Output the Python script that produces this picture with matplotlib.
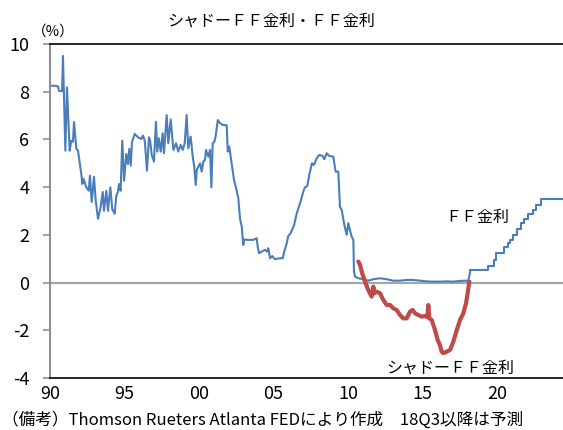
import matplotlib
matplotlib.use('Agg')

import matplotlib.pyplot as plt

plt.rcParams['font.family'] = ['Noto Sans CJK JP', 'DejaVu Sans']

# FF rate (observed), year vs percent
ff_years = [1990.00, 1990.09, 1990.34, 1990.54, 1990.60, 1990.81, 1990.87, 1991.03,
            1991.14, 1991.32, 1991.43, 1991.54, 1991.61, 1991.77, 1991.88, 1992.10,
            1992.17, 1992.26, 1992.44, 1992.60, 1992.68, 1992.80, 1992.95, 1993.07,
            1993.22, 1993.40, 1993.54, 1993.62, 1993.78, 1993.89, 1994.05, 1994.18,
            1994.34, 1994.45, 1994.56, 1994.63, 1994.74, 1994.85, 1994.97, 1995.12,
            1995.23, 1995.32, 1995.42, 1995.50, 1995.68, 1995.91, 1996.13, 1996.24,
            1996.36, 1996.51, 1996.64, 1996.71, 1996.83, 1996.98, 1997.11, 1997.20,
            1997.30, 1997.43, 1997.56, 1997.65, 1997.83, 1997.94, 1998.10, 1998.28,
            1998.46, 1998.61, 1998.77, 1998.91, 1999.04, 1999.17, 1999.28, 1999.44,
            1999.58, 1999.68, 1999.78, 1999.85, 2000.07, 2000.18, 2000.29, 2000.40,
            2000.47, 2000.62, 2000.74, 2000.83, 2000.92, 2001.03, 2001.12, 2001.26,
            2001.41, 2001.63, 2001.86, 2001.93, 2002.03, 2002.19, 2002.35, 2002.48,
            2002.64, 2002.75, 2002.87, 2002.97, 2003.04, 2003.20, 2003.42, 2003.64,
            2003.87, 2003.94, 2004.03, 2004.21, 2004.43, 2004.58, 2004.65, 2004.77,
            2004.92, 2005.10, 2005.26, 2005.44, 2005.62, 2005.72, 2005.89, 2005.99,
            2006.15, 2006.38, 2006.56, 2006.78, 2007.00, 2007.11, 2007.27, 2007.40,
            2007.58, 2007.72, 2007.90, 2008.07, 2008.30, 2008.41, 2008.57, 2008.74,
            2009.01, 2009.17, 2009.35, 2009.46, 2009.58, 2009.73, 2009.91, 2010.02,
            2010.13, 2010.25, 2010.36, 2010.40, 2010.47, 2010.69, 2011.03, 2011.36,
            2011.70, 2012.15, 2012.60, 2013.04, 2013.49, 2013.94, 2014.38, 2014.83,
            2015.28, 2015.72, 2016.17, 2016.62, 2017.07, 2017.52, 2018.07, 2018.15,
            2018.22]
ff_vals = [8.25, 8.25, 8.25, 8.22, 8.04, 8.02, 9.50, 5.53,
           8.18, 5.53, 5.95, 5.90, 6.73, 5.60, 5.53, 4.55,
           4.13, 4.34, 3.99, 3.85, 4.48, 3.38, 4.43, 3.43,
           2.67, 3.17, 3.80, 3.01, 3.85, 3.01, 3.99, 3.08,
           2.88, 3.64, 3.80, 4.13, 3.85, 5.95, 4.27, 5.39,
           4.97, 5.60, 4.90, 5.88, 6.23, 6.09, 6.02, 6.16,
           5.95, 4.69, 6.09, 5.98, 5.35, 5.07, 6.74, 5.49,
           6.05, 5.49, 6.26, 5.42, 7.02, 5.84, 6.84, 5.56,
           5.84, 5.49, 5.77, 5.56, 5.84, 7.02, 5.63, 6.12,
           5.28, 4.86, 4.09, 4.72, 5.00, 4.65, 5.07, 5.14,
           5.56, 5.28, 5.56, 3.99, 5.84, 5.90, 6.14, 6.81,
           6.68, 6.60, 6.60, 5.49, 5.70, 5.00, 4.30, 3.99,
           3.53, 2.69, 2.34, 1.58, 1.81, 1.79, 1.79, 1.79,
           1.86, 1.50, 1.23, 1.30, 1.37, 1.30, 1.44, 1.02,
           1.11, 0.98, 1.00, 1.02, 1.02, 1.30, 1.65, 1.95,
           2.07, 2.41, 2.90, 3.32, 3.81, 3.99, 4.05, 4.51,
           5.00, 4.93, 5.21, 5.35, 5.31, 5.17, 5.42, 5.31,
           5.28, 4.65, 4.65, 3.18, 3.04, 2.49, 2.00, 2.49,
           2.20, 1.92, 1.79, 0.46, 0.25, 0.18, 0.14, 0.08,
           0.14, 0.18, 0.14, 0.08, 0.08, 0.11, 0.11, 0.08,
           0.05, 0.04, 0.04, 0.05, 0.04, 0.07, 0.08, 0.30,
           0.53]

# FF rate path (step changes), from the last observed point onward
ff_step_years = [2018.22, 2019.42, 2019.80, 2019.93, 2020.47, 2020.76, 2020.87,
                 2021.09, 2021.32, 2021.59, 2021.81, 2022.10, 2022.40, 2022.62,
                 2022.95, 2024.43]
ff_step_vals = [0.53, 0.70, 0.95, 1.23, 1.48, 1.65, 1.79,
                2.00, 2.23, 2.49, 2.65, 2.88, 3.04, 3.25,
                3.49, 3.49]

# shadow FF rate
sh_years = [2010.69, 2010.81, 2010.92, 2011.14, 2011.36, 2011.59, 2011.70, 2011.77,
            2011.93, 2012.15, 2012.37, 2012.60, 2012.82, 2013.04, 2013.27, 2013.49,
            2013.71, 2013.94, 2014.16, 2014.34, 2014.50, 2014.72, 2014.95, 2015.17,
            2015.32, 2015.39, 2015.46, 2015.62, 2015.84, 2016.02, 2016.17, 2016.29,
            2016.40, 2016.62, 2016.85, 2017.07, 2017.30, 2017.52, 2017.74, 2017.92,
            2018.03, 2018.14]
sh_vals = [0.88, 0.74, 0.46, 0.04, -0.31, -0.59, -0.17, -0.45,
           -0.38, -0.45, -0.73, -0.94, -0.94, -1.08, -1.15, -1.36,
           -1.50, -1.50, -1.22, -1.15, -1.29, -1.36, -1.43, -1.40,
           -1.45, -0.94, -1.50, -1.57, -1.99, -2.41, -2.62, -2.90,
           -2.96, -2.90, -2.82, -2.48, -1.99, -1.57, -1.29, -0.87,
           -0.45, 0.04]

xtick_pos = [1990, 1995, 2000, 2005, 2010, 2015, 2020]
xtick_labels = ['90', '95', '00', '05', '10', '15', '20']
ytick_pos = [-4, -2, 0, 2, 4, 6, 8, 10]

blue = '#4a7ebb'
red = '#be4b48'


def main():
    fig = plt.figure(figsize=(5.63, 4.30), dpi=100)
    ax = fig.add_axes([50 / 563., 52 / 430., 513 / 563., 334 / 430.])

    ax.axhline(0, color='#a6a6a6', lw=1.6, zorder=1)
    ax.plot(ff_years, ff_vals, color=blue, lw=1.5, zorder=2)
    ax.plot(ff_step_years, ff_step_vals, color=blue, lw=1.5,
            drawstyle='steps-post', zorder=2)
    ax.plot(sh_years, sh_vals, color=red, lw=3.0, zorder=3,
            solid_capstyle='round', solid_joinstyle='round')

    ax.set_xlim(1990, 2024.43)
    ax.set_ylim(-4, 10)

    ax.set_xticks(xtick_pos)
    ax.set_xticklabels(xtick_labels, fontsize=13)
    ax.set_yticks(ytick_pos)
    ax.set_yticklabels([str(v) for v in ytick_pos], fontsize=13)
    ax.tick_params(axis='x', length=0, pad=5)
    ax.tick_params(axis='y', length=5, width=1.2, color='#909090',
                   direction='out', pad=10)

    ax.spines['right'].set_visible(False)
    ax.spines['left'].set_color('#909090')
    ax.spines['left'].set_linewidth(1.5)
    ax.spines['top'].set_color('black')
    ax.spines['top'].set_linewidth(1.2)
    ax.spines['bottom'].set_color('black')
    ax.spines['bottom'].set_linewidth(1.2)

    ax.text(2018.7, 2.71, 'ＦＦ金利', fontsize=11.5, ha='center', va='center')
    ax.text(2016.85, -3.58, 'シャドーＦＦ金利', fontsize=11.5,
            ha='center', va='center')

    fig.text(0.481, 0.951, 'シャドーＦＦ金利・ＦＦ金利', fontsize=11.5,
             ha='center', va='center')
    fig.text(0.094, 0.926, '（%）', fontsize=10.5, ha='center', va='center')
    fig.text(0.004, 0.023,
             '（備考）Thomson Rueters Atlanta FEDにより作成　18Q3以降は予測',
             fontsize=12, ha='left', va='center')

    fig.savefig('out.png', dpi=100)


if __name__ == '__main__':
    main()
